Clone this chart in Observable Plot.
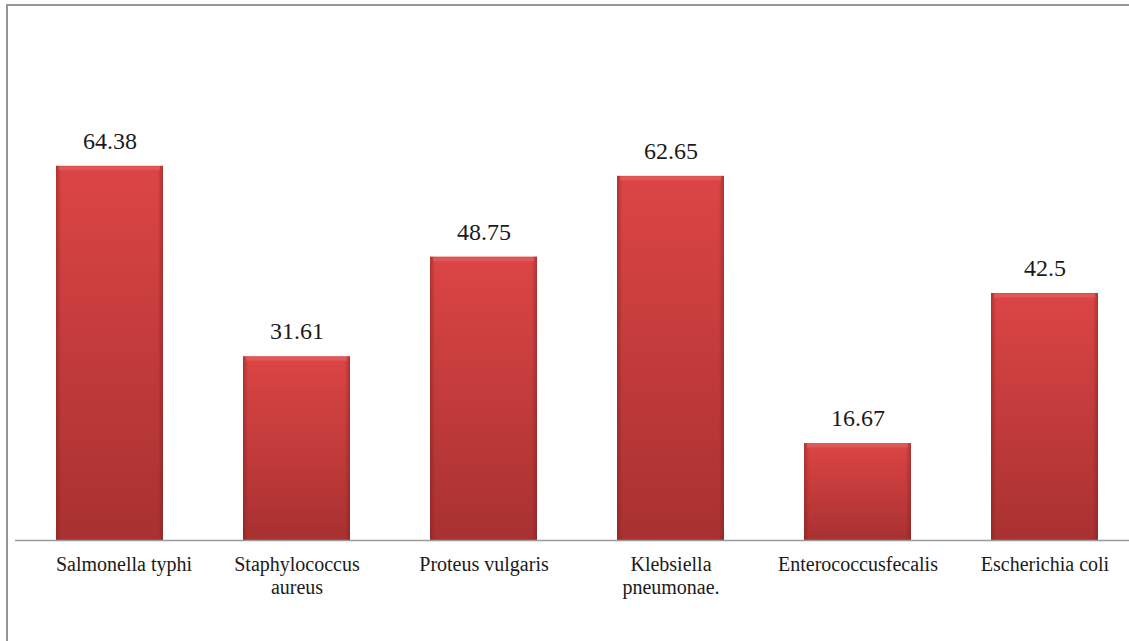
<!DOCTYPE html>
<html>
<head>
<meta charset="utf-8">
<script src="https://cdn.jsdelivr.net/npm/d3@7"></script>
<script src="https://cdn.jsdelivr.net/npm/@observablehq/plot@0.6"></script>
<style>
  html, body { margin: 0; padding: 0; background: #fff; overflow: hidden; }
  #wrap { position: relative; width: 1129px; height: 641px; overflow: hidden; }
  #border { position: absolute; left: 6px; top: 4px; width: 1300px; height: 800px;
            border-left: 2px solid #969696; border-top: 2px solid #969696; }
  #chart { position: absolute; left: 0; top: 0; }
  #chart svg, #chart svg text { font-family: "Liberation Serif", "Times New Roman", Times, serif !important; }
</style>
</head>
<body>
<div id="wrap"><div id="border"></div><div id="chart"></div></div>
<script>
const categories = ["Salmonella typhi", "Staphylococcus aureus", "Proteus vulgaris", "Klebsiella pneumonae.", "Enterococcusfecalis", "Escherichia coli"];
const tickLabels = ["Salmonella typhi", "Staphylococcus\naureus", "Proteus vulgaris", "Klebsiella\npneumonae.", "Enterococcusfecalis", "Escherichia coli"];
const values = [64.38, 31.61, 48.75, 62.65, 16.67, 42.5];
const valueLabels = ["64.38", "31.61", "48.75", "62.65", "16.67", "42.5"];

const data = categories.map((c, i) => ({category: c, value: values[i], label: valueLabels[i]}));
const tickMap = new Map(categories.map((c, i) => [c, tickLabels[i]]));

const font = "Liberation Serif";
const axisOpts = {tickSize: 0, tickPadding: 14, fontSize: 20, lineHeight: 1.15, tickFormat: d => tickMap.get(d), fill: "#1a1a1a", fontFamily: font, label: null};

const plot = Plot.plot({
  width: 1129,
  height: 641,
  marginLeft: 15,
  marginRight: 0,
  marginTop: 75,
  marginBottom: 101,
  style: {fontFamily: font, background: "transparent", overflow: "visible"},
  x: {domain: categories, range: [15, 1138], paddingInner: 0.43, paddingOuter: 0.215, label: null},
  y: {domain: [0, 80], axis: null},
  marks: [
    Plot.barY(data, {x: "category", y: "value", fill: "url(#barGradV)"}),
    Plot.barY(data, {x: "category", y: "value", fill: "url(#barGradH)"}),
    Plot.tickY(data, {x: "category", y: "value", stroke: "#e05c5c", strokeWidth: 4, dy: 2, insetLeft: 3, insetRight: 3, strokeOpacity: 0.8}),
    Plot.ruleY([0], {stroke: "#9a9a9a", strokeWidth: 1.5}),
    Plot.text(data, {x: "category", y: "value", text: "label", dy: -25, fontSize: 24, fill: "#1a1a1a", fontFamily: font}),
    Plot.axisX({...axisOpts, ticks: categories.slice(0, 1), dx: 14}),
    Plot.axisX({...axisOpts, ticks: categories.slice(1)})
  ]
});

const svg = d3.select(plot);
const defs = svg.insert("defs", ":first-child");
const gv = defs.append("linearGradient").attr("id", "barGradV").attr("x1", 0).attr("y1", 0).attr("x2", 0).attr("y2", 1);
gv.append("stop").attr("offset", "0%").attr("stop-color", "#dc4545");
gv.append("stop").attr("offset", "100%").attr("stop-color", "#a93131");
const gh = defs.append("linearGradient").attr("id", "barGradH").attr("x1", 0).attr("y1", 0).attr("x2", 1).attr("y2", 0);
gh.append("stop").attr("offset", "0%").attr("stop-color", "#7a1c1c").attr("stop-opacity", 0.45);
gh.append("stop").attr("offset", "5%").attr("stop-color", "#7a1c1c").attr("stop-opacity", 0.0);
gh.append("stop").attr("offset", "95%").attr("stop-color", "#7a1c1c").attr("stop-opacity", 0.0);
gh.append("stop").attr("offset", "100%").attr("stop-color", "#7a1c1c").attr("stop-opacity", 0.45);

document.getElementById("chart").appendChild(plot);
</script>
</body>
</html>
